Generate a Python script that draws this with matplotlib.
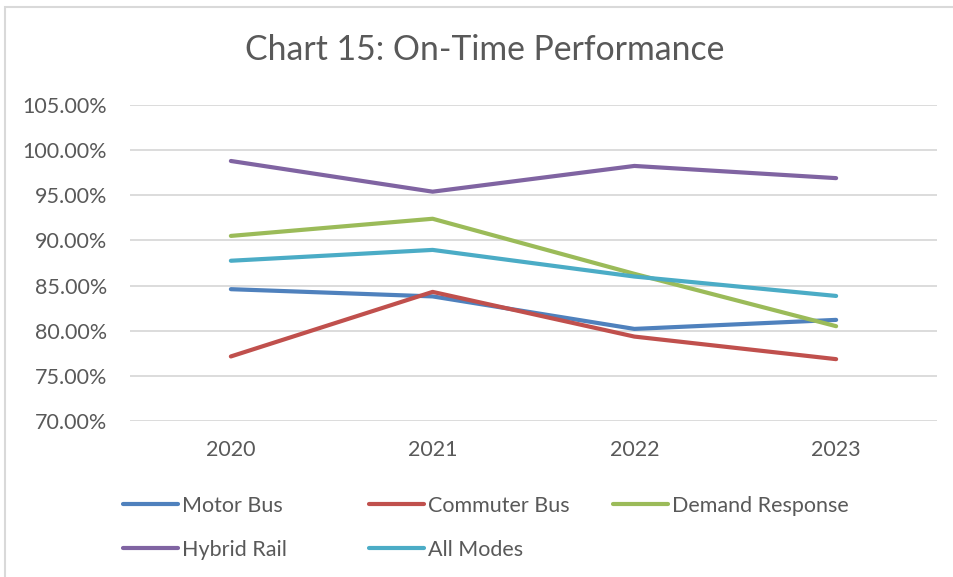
import matplotlib
matplotlib.use("Agg")
import matplotlib.pyplot as plt
from matplotlib.lines import Line2D
from matplotlib.patches import Rectangle
from matplotlib.ticker import FuncFormatter, MultipleLocator

plt.rcParams['font.family'] = ['Lato', 'DejaVu Sans']

years = ["2020", "2021", "2022", "2023"]
motor_bus = [84.6, 83.8, 80.2, 81.2]
commuter_bus = [77.15, 84.3, 79.35, 76.85]
demand_response = [90.5, 92.4, 86.3, 80.5]
hybrid_rail = [98.8, 95.4, 98.25, 96.9]
all_modes = [87.75, 88.95, 86.0, 83.85]

series = [
    ("Motor Bus", motor_bus, "#4F81BD"),
    ("Commuter Bus", commuter_bus, "#C0504D"),
    ("Demand Response", demand_response, "#9BBB59"),
    ("Hybrid Rail", hybrid_rail, "#8064A2"),
    ("All Modes", all_modes, "#4BACC6"),
]

W, H = 954, 577
fig = plt.figure(figsize=(W / 100, H / 100), dpi=100)

# chart border (right and bottom edges lie outside the image)
fig.patches.append(Rectangle((5.5 / W, -0.1), 1.2, 1.1 - 7.5 / H, transform=fig.transFigure,
                             fill=False, edgecolor="#D9D9D9", linewidth=1.5))

left, right = 130 / W, 937 / W
bottom, top = 1 - 421 / H, 1 - 105 / H
ax = fig.add_axes([left, bottom, right - left, top - bottom])

x = list(range(len(years)))
for name, vals, col in series:
    ax.plot(x, vals, color=col, linewidth=3.0, solid_capstyle='round',
            solid_joinstyle='round', label=name)

ax.set_xlim(-0.5, len(years) - 0.5)
ax.set_ylim(70, 105)
ax.yaxis.set_major_locator(MultipleLocator(5))
ax.yaxis.set_major_formatter(FuncFormatter(lambda v, p: f"{v:.2f}%"))
ax.set_xticks(x)
ax.set_xticklabels(years)
ax.grid(axis='y', color="#D9D9D9", linewidth=1.3)
ax.set_axisbelow(True)
for s in ax.spines.values():
    s.set_visible(False)
ax.tick_params(axis='both', length=0, labelsize=15.5, labelcolor="#595959")
ax.tick_params(axis='y', pad=16.5)
ax.tick_params(axis='x', pad=14)

fig.text(485 / W, 1 - 50 / H, "Chart 15: On-Time Performance", ha='center', va='center',
         fontsize=24.3, color="#595959")

# legend: three columns placed at fixed positions
cols = [[series[0], series[3]], [series[1], series[4]], [series[2]]]
col_x = [123, 369, 613]
for cx, entries in zip(col_x, cols):
    handles = [Line2D([], [], color=c, linewidth=3.0, solid_capstyle='round') for _, _, c in entries]
    labels = [n for n, _, _ in entries]
    leg = fig.legend(handles, labels, loc='upper left',
                     bbox_to_anchor=(cx / W, 1 - 496 / H), frameon=False,
                     fontsize=15.5, handlelength=2.55, handletextpad=0.2,
                     labelspacing=1.1, borderpad=0, borderaxespad=0)
    for t in leg.get_texts():
        t.set_color("#595959")

fig.savefig("out.png", dpi=100, facecolor="white")
